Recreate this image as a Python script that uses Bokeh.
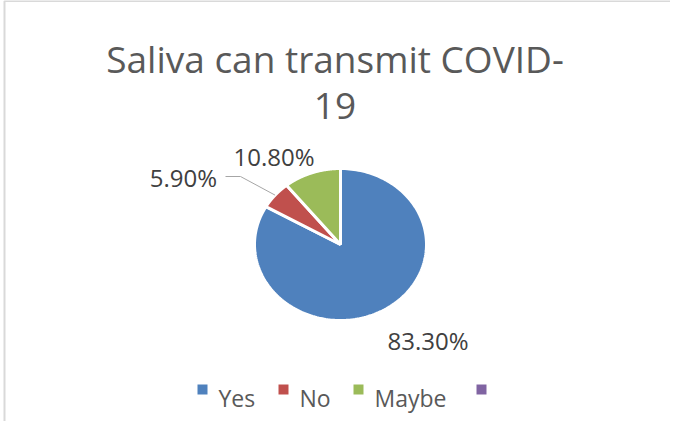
import numpy as np
from bokeh.plotting import figure
from bokeh.models import Range1d
from bokeh.core.properties import value
from bokeh.embed import file_html
from bokeh.resources import INLINE

# ---- data ----
title_lines = ["Saliva can transmit COVID-", "19"]
categories = ["Yes", "No", "Maybe", ""]
percent = [83.3, 5.9, 10.8, 0.0]
labels = ["83.30%", "5.90%", "10.80%"]
colors = ["#4F81BD", "#C0504D", "#9BBB59", "#8064A2"]

# ---- layout (page pixels minus 8px margin) ----
W, H = 670, 421
CX, CY = 340, 244          # pie centre
RX, RY = 86, 76            # pie radii (slightly squashed as in reference)
FONT = value("Open Sans")

p = figure(width=W, height=H, output_backend="svg", toolbar_location=None,
           x_range=Range1d(0, W), y_range=Range1d(H, 0), min_border=0,
           outline_line_color=None)
p.axis.visible = False
p.grid.visible = False
p.background_fill_color = "white"
p.border_fill_color = "white"

# chart frame
p.quad(left=[4], right=[673], top=[0.5], bottom=[440], fill_color=None,
       line_color="#D9D9D9", line_width=2)

# ---- pie slices (clockwise from 12 o'clock) ----
total = sum(percent)
starts = np.cumsum([0] + percent[:-1]) / total * 2 * np.pi
ends = np.cumsum(percent) / total * 2 * np.pi
xs, ys, fills = [], [], []
for s, e, c in zip(starts, ends, colors):
    if e - s <= 0:
        continue
    th = np.linspace(s, e, 200)
    xs.append([CX] + list(CX + RX * np.sin(th)) + [CX])
    ys.append([CY] + list(CY - RY * np.cos(th)) + [CY])
    fills.append(c)
p.patches(xs=xs, ys=ys, fill_color=fills, line_color="white", line_width=3)

# ---- leader line to the "No" slice ----
mid_no = (starts[1] + ends[1]) / 2
ex, ey = CX + RX * np.sin(mid_no), CY - RY * np.cos(mid_no)
p.line(x=[225, 240, ex], y=[176, 176, ey], line_color="#A6A6A6", line_width=1)

# ---- data labels ----
lab_x = [427.5, 183, 273.5]
lab_y = [340, 177, 156]
p.text(x=lab_x, y=lab_y, text=labels, text_font=FONT, text_font_size="24px",
       text_color="#404040", text_align="center", text_baseline="alphabetic")

# ---- title ----
p.text(x=[334.5, 334.5], y=[58, 105], text=title_lines, text_font=FONT,
       text_font_size="37px", text_color="#595959", text_align="center",
       text_baseline="alphabetic")

# ---- legend ----
leg_sq_x = [202, 283, 358, 481]
leg_y = 389
p.scatter(x=leg_sq_x, y=[leg_y] * 4, marker="square", size=10,
          fill_color=colors, line_color=None)
p.text(x=[x + 16 for x in leg_sq_x], y=[leg_y + 8] * 4, text=categories,
       text_font=FONT, text_font_size="23px", text_color="#595959",
       text_align="left", text_baseline="alphabetic")

open("out.html", "w").write(file_html(p, INLINE))
